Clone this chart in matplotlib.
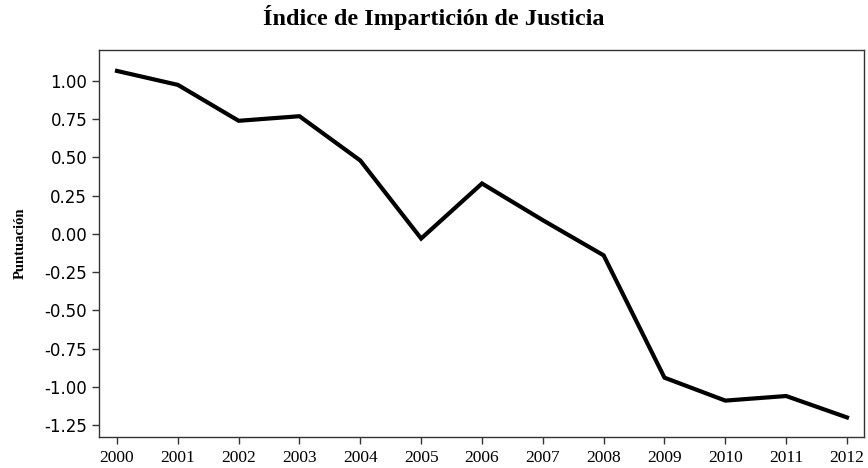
import numpy as np
import matplotlib
matplotlib.use("Agg")
from matplotlib import pyplot as plt

# yearly index scores
years = [2000, 2001, 2002, 2003, 2004, 2005, 2006, 2007, 2008, 2009, 2010, 2011, 2012]
score = [1.066, 0.975, 0.74, 0.77, 0.48, -0.03, 0.33, 0.09, -0.14, -0.94, -1.09, -1.06, -1.20]
y_ticks = [1.00, 0.75, 0.50, 0.25, 0.00, -0.25, -0.50, -0.75, -1.00, -1.25]

fig = plt.figure(figsize=(8.68, 4.68), dpi=100)
ax = fig.add_axes([99 / 868, 1 - 437 / 468, (864 - 99) / 868, (437 - 50) / 468])

ax.plot(years, score, color="black", lw=3.0, solid_joinstyle="miter")

ax.set_xlim(1999.704, 2012.28)
ax.set_ylim(-1.328, 1.203)
ax.set_xticks(years)
ax.set_xticklabels([str(y) for y in years], family="Liberation Serif", fontsize=12.5)
ax.set_yticks(y_ticks)
ax.set_yticklabels(["%.2f" % v for v in y_ticks], family="DejaVu Sans", fontsize=12)
ax.tick_params(direction="out", length=5, width=1, color="#333333")
ax.tick_params(axis="x", pad=4)
for s in ax.spines.values():
    s.set_linewidth(1.0)
    s.set_color("#333333")

ax.set_ylabel("Puntuación", family="Liberation Serif", fontweight="bold", fontsize=10.5)
ax.yaxis.set_label_coords(-0.095, 0.5)
fig.text(0.5, 1 - 18 / 468, "Índice de Impartición de Justicia", ha="center", va="center",
         family="Liberation Serif", fontweight="bold", fontsize=17.5)

fig.savefig("out.png", dpi=100)
